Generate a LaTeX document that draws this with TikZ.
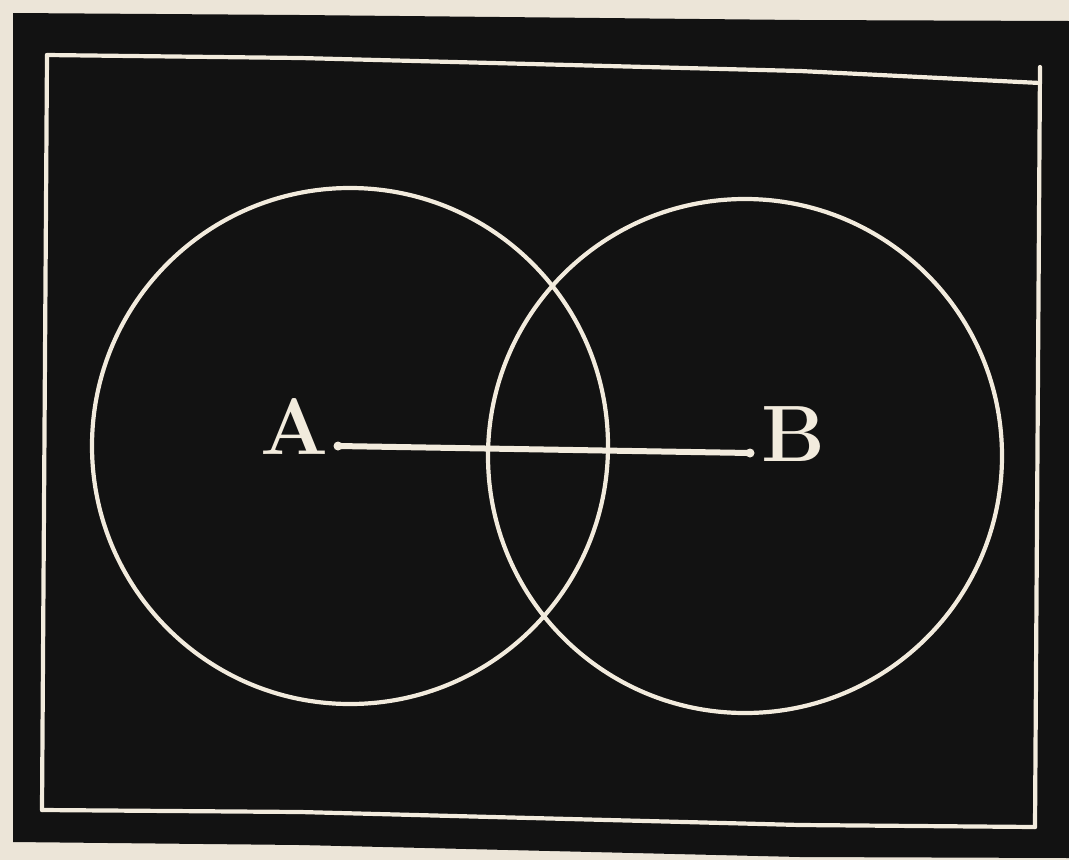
\documentclass[tikz,border=0pt]{standalone}
\usepackage{tikz}
\definecolor{paper}{HTML}{ECE5D8}
\definecolor{ink}{HTML}{121212}
\definecolor{chalk}{HTML}{F2EBDD}
\tikzset{
  chalkline/.style={draw=chalk, line width=4.2pt, line cap=round, line join=round},
  letter/.style={text=chalk, font=\fontsize{80}{80}\selectfont\bfseries, inner sep=0pt}
}
\begin{document}
\begin{tikzpicture}[x=1pt,y=-1pt]
\useasboundingbox (0,0) rectangle (1069,860);
\fill[paper] (0,0) rectangle (1069,860);
% black block
\fill[ink] (13,13) -- (300,15) -- (800,20) -- (1069,21) -- (1069,858) -- (800,857) -- (300,845) -- (13,842) -- cycle;
% inner frame
\coordinate (fTL) at (47,55);
\coordinate (fTR) at (1040,83);
\coordinate (fBR) at (1035,827);
\coordinate (fBL) at (42,810);
\draw[chalkline] (fTL) -- (300,58) -- (800,71) -- (fTR);
\draw[chalkline] (1040,67) -- (fBR);
\draw[chalkline] (fBL) -- (300,812) -- (800,825) -- (fBR);
\draw[chalkline] (fTL) -- (fBL);
% circles
\coordinate (cA) at (350,446);
\coordinate (cB) at (745,456);
\draw[chalkline] (cA) circle[radius=258];
\draw[chalkline] (cB) circle[radius=257];
% segment AB
\coordinate (pA) at (338,446);
\coordinate (pB) at (750,453);
\draw[draw=chalk, line width=6pt, line cap=round] (pA) -- (pB);
\fill[chalk] (pA) circle[radius=4.5];
\fill[chalk] (pB) circle[radius=4.5];
% labels
\node[letter] (labA) at (294,426) {A};
\node[letter] (labB) at (793,434) {B};
\end{tikzpicture}
\end{document}
